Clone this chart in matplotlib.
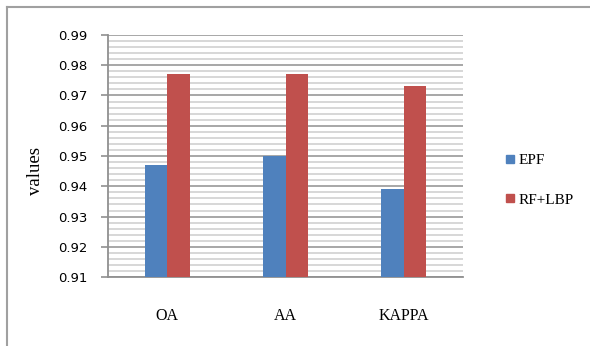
import numpy as np
import matplotlib
matplotlib.use("Agg")
import matplotlib.pyplot as plt
from matplotlib.lines import Line2D
from matplotlib.ticker import MultipleLocator

categories = ["OA", "AA", "KAPPA"]
series_names = ["EPF", "RF+LBP"]
epf = [0.947, 0.950, 0.939]
rf_lbp = [0.977, 0.977, 0.973]
y_ticks = [0.91, 0.92, 0.93, 0.94, 0.95, 0.96, 0.97, 0.98, 0.99]

BLUE = "#4F81BD"
RED = "#C0504D"
SERIF = "Liberation Serif"

fig = plt.figure(figsize=(5.9, 3.46), dpi=100)
ax = fig.add_axes([0.183, 0.199, 0.602, 0.700])

x = np.arange(len(categories)) + 0.5
w = 0.19
ax.bar(x - w / 2, epf, w, color=BLUE, label=series_names[0], zorder=3)
ax.bar(x + w / 2, rf_lbp, w, color=RED, label=series_names[1], zorder=3)

ax.set_xlim(0, len(categories))
ax.set_ylim(y_ticks[0], y_ticks[-1])
ax.set_yticks(y_ticks)
ax.set_yticklabels([f"{t:.2f}" for t in y_ticks], fontsize=9.5,
                   family="DejaVu Sans", color="black")
ax.yaxis.set_minor_locator(MultipleLocator(0.002))
ax.grid(which="minor", axis="y", color="#d4d4d4", lw=1.3, zorder=0)
ax.grid(which="major", axis="y", color="#a0a0a0", lw=1.3, zorder=1)
ax.tick_params(axis="y", which="major", length=5, width=1.2, color="#909090",
               direction="out", pad=10)
ax.tick_params(axis="y", which="minor", length=0)

ax.set_xticks(x)
ax.set_xticklabels(categories, family=SERIF, fontsize=11.5)
ax.tick_params(axis="x", length=0, pad=22)

for side in ("top", "right"):
    ax.spines[side].set_visible(False)
for side in ("left", "bottom"):
    ax.spines[side].set_color("#909090")
    ax.spines[side].set_linewidth(1.3)

fig.text(0.06, 0.505, "values", rotation=90, ha="center", va="center",
         family=SERIF, fontsize=13.5)

handles = [Line2D([], [], marker="s", ls="", color=c, markersize=6)
           for c in (BLUE, RED)]
fig.legend(handles, series_names, loc="center left",
           bbox_to_anchor=(0.83, 0.48), frameon=False, handletextpad=0.2,
           labelspacing=1.7, handlelength=0.8, prop={"family": SERIF, "size": 11})

# outer chart border (left and top edges)
fig.add_artist(Line2D([0.012, 0.012], [0.0, 0.98], color="#a0a0a0", lw=1.5,
                      transform=fig.transFigure))
fig.add_artist(Line2D([0.012, 1.0], [0.98, 0.98], color="#a0a0a0", lw=1.5,
                      transform=fig.transFigure))

fig.savefig("out.png", dpi=100)
